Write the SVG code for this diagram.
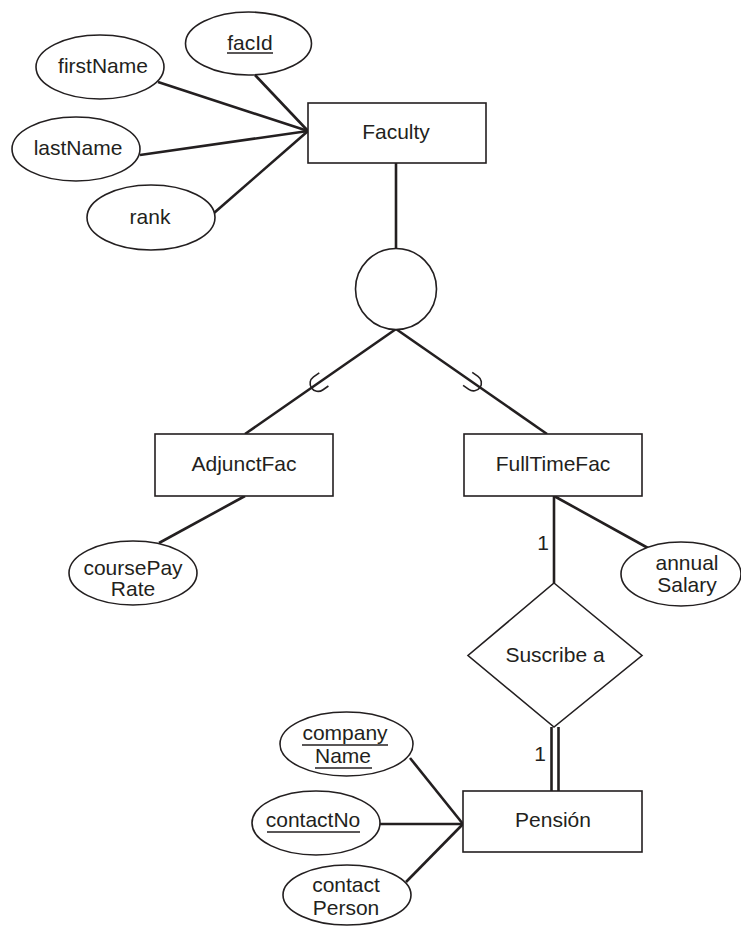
<svg xmlns="http://www.w3.org/2000/svg" width="741" height="926" viewBox="0 0 741 926">
<style>
text{font-family:"Liberation Sans",Arial,sans-serif;font-size:21px;fill:#231f20;text-anchor:middle}
.s{fill:#fff;stroke:#231f20;stroke-width:1.6}
.c{stroke:#231f20;stroke-width:2.6;fill:none}
.u{stroke:#231f20;stroke-width:1.4}
.sub{fill:none;stroke:#231f20;stroke-width:1.6}
</style>
<rect width="741" height="926" fill="#fff"/>
<g id="connectors">
<line class="c" x1="158" y1="82" x2="308" y2="131"/>
<line class="c" x1="255" y1="75" x2="308" y2="131"/>
<line class="c" x1="140" y1="155" x2="308" y2="131"/>
<line class="c" x1="214" y1="213" x2="308" y2="131"/>
<line class="c" x1="396" y1="163" x2="396" y2="248"/>
<line class="c" x1="396" y1="329" x2="245" y2="434"/>
<line class="c" x1="396" y1="329" x2="547" y2="434"/>
<line class="c" x1="245" y1="496" x2="159" y2="543"/>
<line class="c" x1="554" y1="496" x2="554" y2="583"/>
<line class="c" x1="554" y1="496" x2="648" y2="548"/>
<line class="c" x1="551.5" y1="727" x2="551.5" y2="791"/>
<line class="c" x1="558.5" y1="727" x2="558.5" y2="791"/>
<line class="c" x1="410" y1="758" x2="463" y2="824"/>
<line class="c" x1="380" y1="824" x2="463" y2="824"/>
<line class="c" x1="406" y1="882" x2="463" y2="824"/>
<path class="sub" transform="translate(318.1,383.4) rotate(-34.8)" d="M 7 -8 L 0 -8 A 8 8 0 0 0 0 8 L 7 8"/>
<path class="sub" transform="translate(473.4,382.9) rotate(-145.1)" d="M 7 -8 L 0 -8 A 8 8 0 0 0 0 8 L 7 8"/>
<text x="543" y="550">1</text>
<text x="540" y="761">1</text>
</g>
<g id="facId"><ellipse class="s" cx="248.5" cy="43.5" rx="63" ry="31.5"/><text x="250" y="50">facId</text><line class="u" x1="227" y1="53" x2="273" y2="53"/></g>
<g id="firstName"><ellipse class="s" cx="100" cy="67" rx="64" ry="32"/><text x="103" y="73">firstName</text></g>
<g id="lastName"><ellipse class="s" cx="76" cy="149" rx="64" ry="32"/><text x="78" y="155">lastName</text></g>
<g id="rank"><ellipse class="s" cx="151" cy="217.5" rx="64" ry="32.5"/><text x="150" y="224">rank</text></g>
<g id="Faculty"><rect class="s" x="308" y="103" width="178" height="60"/><text x="396" y="139">Faculty</text></g>
<g id="specialization"><circle class="s" cx="396" cy="289" r="40.5"/></g>
<g id="AdjunctFac"><rect class="s" x="155" y="434" width="178" height="62"/><text x="244" y="471">AdjunctFac</text></g>
<g id="FullTimeFac"><rect class="s" x="464" y="434" width="178" height="62"/><text x="553" y="471">FullTimeFac</text></g>
<g id="coursePayRate"><ellipse class="s" cx="133" cy="573" rx="64" ry="32"/><text x="133" y="575">coursePay</text><text x="133" y="596">Rate</text></g>
<g id="annualSalary"><ellipse class="s" cx="681" cy="574" rx="60" ry="32"/><text x="687" y="570">annual</text><text x="687" y="592">Salary</text></g>
<g id="SuscribeA"><polygon class="s" points="554,583 642,655.5 554,727 468,655.5"/><text x="555" y="662">Suscribe a</text></g>
<g id="Pension"><rect class="s" x="463" y="791" width="179" height="61"/><text x="553" y="827">Pensión</text></g>
<g id="companyName"><ellipse class="s" cx="346.5" cy="744" rx="66.5" ry="32"/><text x="345" y="740">company</text><line class="u" x1="302" y1="745" x2="388" y2="745"/><text x="343" y="763">Name</text><line class="u" x1="315" y1="768" x2="372" y2="768"/></g>
<g id="contactNo"><ellipse class="s" cx="316" cy="823" rx="64" ry="32"/><text x="313" y="827">contactNo</text><line class="u" x1="267" y1="832" x2="360" y2="832"/></g>
<g id="contactPerson"><ellipse class="s" cx="347" cy="895" rx="64" ry="30"/><text x="346" y="892">contact</text><text x="346" y="915">Person</text></g>
</svg>
